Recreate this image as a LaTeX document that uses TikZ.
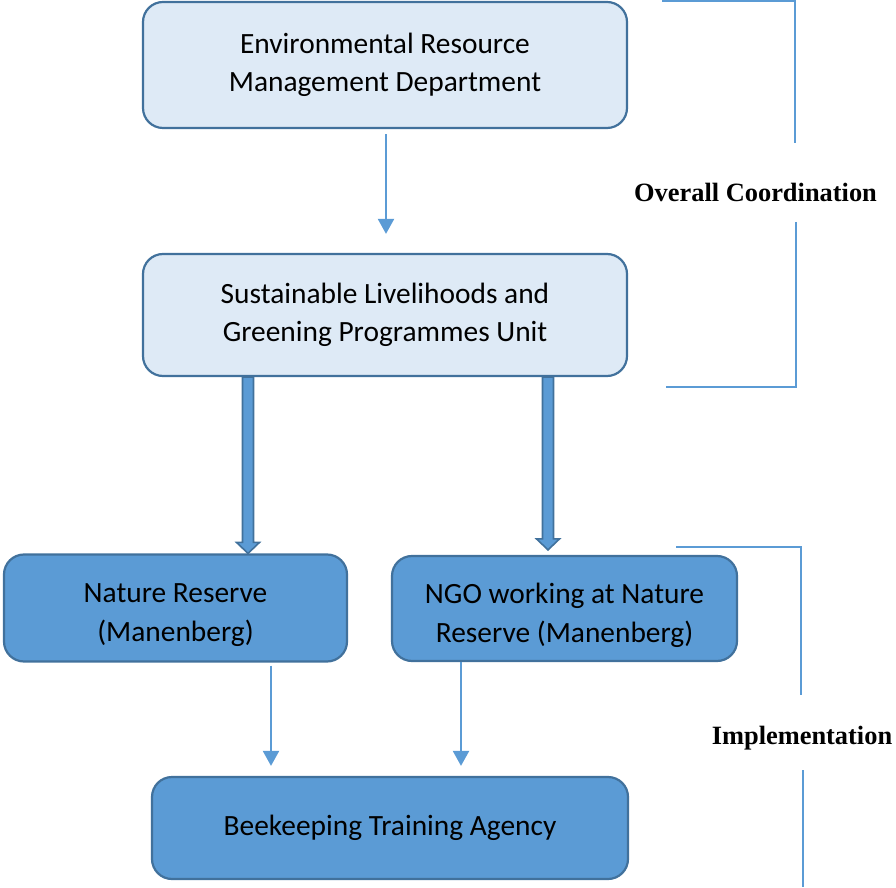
\documentclass[tikz,border=0pt]{standalone}
\usepackage{fontspec}
\setmainfont{Carlito}
\newfontfamily\labelfont{Liberation Serif}
\usetikzlibrary{arrows.meta,calc}

\definecolor{lightbox}{RGB}{222,234,246}
\definecolor{darkbox}{RGB}{91,155,213}
\definecolor{boxline}{RGB}{65,113,156}
\definecolor{linkblue}{RGB}{91,155,213}

\tikzset{
  boxfont/.style={font=\fontsize{29.4}{38.5}\selectfont},
  boxbase/.style={draw=boxline, line width=2.2pt, rounded corners=20pt,
    align=center, inner sep=0pt, boxfont},
  lightnode/.style={boxbase, fill=lightbox},
  darknode/.style={boxbase, fill=darkbox},
  boxtext/.style={align=center, inner sep=0pt, boxfont},
  thinarrow/.style={draw=linkblue, line width=2.2pt,
    -{Triangle[width=16pt,length=15pt]}},
  blockarrow/.style={draw=boxline, fill=darkbox, line width=1.6pt, line join=miter},
  bracket/.style={draw=linkblue, line width=1.3pt},
  phaselabel/.style={font=\labelfont\bfseries\fontsize{26.4}{30}\selectfont}
}

\begin{document}
\begin{tikzpicture}[x=1pt,y=1pt]
  \useasboundingbox (0,0) rectangle (896,887);

  % organisational boxes
  \node[lightnode, minimum width=484pt, minimum height=126pt] (erm) at (385,822)
    {Environmental Resource\\Management Department};
  \node[lightnode, minimum width=484pt, minimum height=122pt] (slg) at (385,572)
    {Sustainable Livelihoods and\\Greening Programmes Unit};
  \node[darknode, minimum width=343pt, minimum height=107pt] (nr) at (175.5,279) {};
  \node[boxtext] (nrtext) at ([yshift=-7pt]nr.center) {Nature Reserve\\(Manenberg)};
  \node[darknode, minimum width=345pt, minimum height=105pt] (ngo) at (564.5,278.5) {};
  \node[boxtext] (ngotext) at ([yshift=-7pt]ngo.center) {NGO working at Nature\\Reserve (Manenberg)};
  \node[darknode, minimum width=476pt, minimum height=102pt] (bta) at (390,59)
    {Beekeeping Training Agency};

  % thin connectors
  \draw[thinarrow] ([xshift=1pt,yshift=-5pt]erm.south) -- ([xshift=1pt,yshift=19pt]slg.north);

  \coordinate (c1) at (271,0);
  \coordinate (c2) at (461,0);
  \draw[thinarrow] ([yshift=-3pt]nr.south -| c1) -- ([yshift=10pt]bta.north -| c1);
  \draw[thinarrow] (ngo.south -| c2) -- ([yshift=10pt]bta.north -| c2);

  % block arrows from the unit to the implementers
  \coordinate (la) at (248,0);
  \coordinate (ra) at (548,0);
  \coordinate (ls) at (slg.south -| la);
  \coordinate (lt) at (nr.north -| la);
  \coordinate (rs) at (slg.south -| ra);
  \coordinate (rt) at ([yshift=5pt]ngo.north -| ra);
  \draw[blockarrow] ($(ls)+(-5.5,0)$) -- ($(lt)+(-5.5,11)$) -- ($(lt)+(-11.5,11)$) -- (lt)
    -- ($(lt)+(11.5,11)$) -- ($(lt)+(5.5,11)$) -- ($(ls)+(5.5,0)$) -- cycle;
  \draw[blockarrow] ($(rs)+(-5.5,0)$) -- ($(rt)+(-5.5,11)$) -- ($(rt)+(-11.5,11)$) -- (rt)
    -- ($(rt)+(11.5,11)$) -- ($(rt)+(5.5,11)$) -- ($(rs)+(5.5,0)$) -- cycle;

  % phase brackets and labels
  \node[phaselabel] (oc) at (755.5,695) {Overall Coordination};
  \node[phaselabel] (impl) at (802,149) {Implementation};

  \coordinate (b1) at (662,886);
  \coordinate (b2) at (795,886);
  \coordinate (b3) at (795,744);
  \coordinate (b4) at (796,665);
  \coordinate (b5) at (796,500);
  \coordinate (b6) at (666,500);
  \draw[bracket] (b1) -- (b2) -- (b3);
  \draw[bracket] (b4) -- (b5) -- (b6);

  \coordinate (d1) at (676,340);
  \coordinate (d2) at (801,340);
  \coordinate (d3) at (801,192);
  \coordinate (d4) at (803,117);
  \coordinate (d5) at (803,0);
  \draw[bracket] (d1) -- (d2) -- (d3);
  \draw[bracket] (d4) -- (d5);
\end{tikzpicture}
\end{document}
